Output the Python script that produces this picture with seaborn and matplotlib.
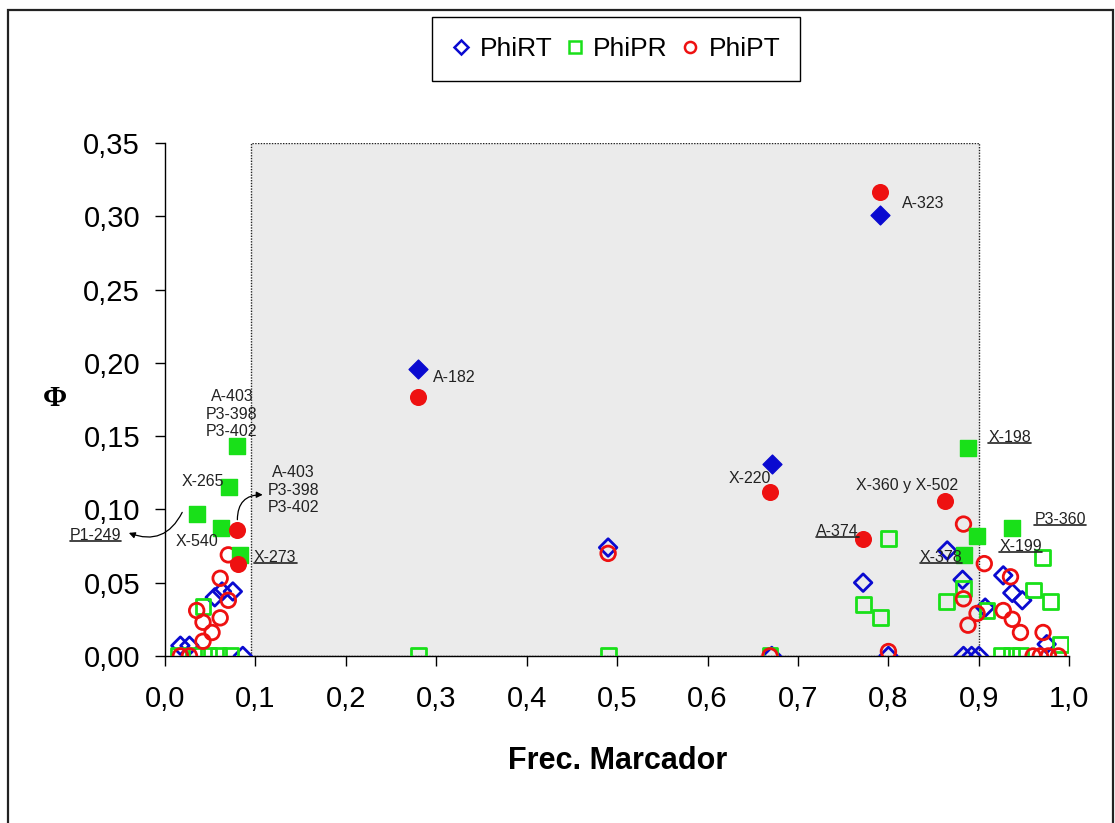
import numpy as np
import pandas as pd
import matplotlib
matplotlib.use("Agg")
import matplotlib.pyplot as plt
import seaborn as sns
from matplotlib.patches import Rectangle
from matplotlib.lines import Line2D
from matplotlib.ticker import FuncFormatter

# ---- PhiRT (blue diamonds) ----
rt_open_x = [0.017, 0.027, 0.086, 0.055, 0.063, 0.075, 0.490, 0.671, 0.772, 0.800,
             0.865, 0.882, 0.883, 0.892, 0.900, 0.907, 0.927, 0.937, 0.948, 0.975]
rt_open_y = [0.007, 0.007, 0.000, 0.040, 0.044, 0.044, 0.074, 0.000, 0.050, 0.000,
             0.072, 0.052, 0.000, 0.000, 0.000, 0.033, 0.055, 0.043, 0.038, 0.008]
rt_fill_x = [0.280, 0.671, 0.791]
rt_fill_y = [0.196, 0.131, 0.301]

# ---- PhiPR (green squares) ----
pr_open_x = [0.015, 0.035, 0.048, 0.059, 0.072, 0.280, 0.490, 0.669, 0.925, 0.936,
             0.946, 0.042, 0.800, 0.772, 0.791, 0.864, 0.883, 0.909, 0.960, 0.979,
             0.970, 0.990]
pr_open_y = [0.000, 0.000, 0.000, 0.000, 0.000, 0.000, 0.000, 0.000, 0.000, 0.000,
             0.000, 0.034, 0.080, 0.035, 0.026, 0.037, 0.046, 0.031, 0.045, 0.037,
             0.067, 0.008]
pr_fill_x = [0.080, 0.071, 0.035, 0.062, 0.083, 0.888, 0.898, 0.937, 0.884]
pr_fill_y = [0.143, 0.115, 0.097, 0.087, 0.069, 0.142, 0.082, 0.087, 0.069]

# ---- PhiPT (red circles) ----
pt_open_x = [0.017, 0.027, 0.042, 0.052, 0.042, 0.061, 0.035, 0.070, 0.061, 0.070,
             0.490, 0.669, 0.800, 0.883, 0.906, 0.883, 0.898, 0.888, 0.935, 0.927,
             0.937, 0.946, 0.971, 0.960, 0.968, 0.977, 0.988]
pt_open_y = [0.000, 0.000, 0.010, 0.016, 0.023, 0.026, 0.031, 0.038, 0.053, 0.069,
             0.070, 0.000, 0.003, 0.090, 0.063, 0.039, 0.029, 0.021, 0.054, 0.031,
             0.025, 0.016, 0.016, 0.000, 0.000, 0.000, 0.000]
pt_fill_x = [0.080, 0.081, 0.280, 0.669, 0.772, 0.791, 0.863]
pt_fill_y = [0.086, 0.063, 0.177, 0.112, 0.080, 0.317, 0.106]

series_names = ["PhiRT", "PhiPR", "PhiPT"]
x_ticks = [0.0, 0.1, 0.2, 0.3, 0.4, 0.5, 0.6, 0.7, 0.8, 0.9, 1.0]
y_ticks = [0.00, 0.05, 0.10, 0.15, 0.20, 0.25, 0.30, 0.35]

colors = {"PhiRT": "#0a0ad0", "PhiPR": "#19e019", "PhiPT": "#ee1111"}
markers = {"PhiRT": "D", "PhiPR": "s", "PhiPT": "o"}
sizes = {"PhiRT": 80, "PhiPR": 115, "PhiPT": 110}

frames = []
for name, ox, oy, fx, fy in [
    ("PhiRT", rt_open_x, rt_open_y, rt_fill_x, rt_fill_y),
    ("PhiPR", pr_open_x, pr_open_y, pr_fill_x, pr_fill_y),
    ("PhiPT", pt_open_x, pt_open_y, pt_fill_x, pt_fill_y),
]:
    frames.append(pd.DataFrame({"freq": ox, "phi": oy, "serie": name, "filled": False}))
    frames.append(pd.DataFrame({"freq": fx, "phi": fy, "serie": name, "filled": True}))
df = pd.concat(frames, ignore_index=True)

sns.set_theme(style="white")
plt.rcParams["font.family"] = ["Liberation Sans", "DejaVu Sans"]

fig = plt.figure(figsize=(11.15, 8.23), dpi=100)
ax = fig.add_axes([0.148, 0.203, 0.811, 0.623])

# shaded region between 0.1 and 0.9
ax.add_patch(Rectangle((0.095, 0.0), 0.805, 0.35, facecolor="#ebebeb",
                       edgecolor="#222222", linestyle=(0, (1, 1)), lw=1.0, zorder=0.5))

for name in series_names:
    sub = df[(df.serie == name) & (~df.filled)]
    sns.scatterplot(data=sub, x="freq", y="phi", ax=ax, marker=markers[name],
                    s=sizes[name], facecolor="none", edgecolor=colors[name],
                    linewidth=2.0, zorder=3, legend=False)
for name in series_names:
    sub = df[(df.serie == name) & (df.filled)]
    sns.scatterplot(data=sub, x="freq", y="phi", ax=ax, marker=markers[name],
                    s=sizes[name] * 1.15, color=colors[name], edgecolor=colors[name],
                    linewidth=1.0, zorder=4, legend=False)

ax.set_xlim(0, 1.0)
ax.set_ylim(0, 0.35)
ax.set_xticks(x_ticks)
ax.set_yticks(y_ticks)
ax.xaxis.set_major_formatter(FuncFormatter(lambda v, p: f"{v:.1f}".replace(".", ",")))
ax.yaxis.set_major_formatter(FuncFormatter(lambda v, p: f"{v:.2f}".replace(".", ",")))
for side in ["top", "right"]:
    ax.spines[side].set_visible(False)
for side in ["left", "bottom"]:
    ax.spines[side].set_color("black")
    ax.spines[side].set_linewidth(1.0)
ax.tick_params(axis="both", which="major", direction="out", length=7, width=1,
               color="black", labelsize=21, labelcolor="#000000",
               bottom=True, left=True)
ax.tick_params(axis="x", pad=14)
ax.tick_params(axis="y", pad=11)
ax.set_facecolor("white")

ax.set_xlabel("Frec. Marcador", fontsize=22, fontweight="bold", labelpad=24, color="#000000")
ax.set_ylabel("")
fig.text(55 / 1115, 1 - 398 / 823, "Φ", fontsize=21, fontweight="bold",
         family=["Liberation Serif", "DejaVu Serif"], ha="center", va="center", color="#000000")

# point labels
lab_kw = dict(fontsize=11.5, color="#222222", annotation_clip=False, zorder=6)
underlined = []
ax.annotate("A-323", (0.815, 0.309), ha="left", va="center", **lab_kw)
ax.annotate("A-182", (0.296, 0.190), ha="left", va="center", **lab_kw)
ax.annotate("X-220", (0.647, 0.121), ha="center", va="center", **lab_kw)
ax.annotate("X-360 y X-502", (0.821, 0.116), ha="center", va="center", **lab_kw)
ax.annotate("X-265", (0.042, 0.119), ha="center", va="center", **lab_kw)
ax.annotate("X-540", (0.035, 0.078), ha="center", va="center", **lab_kw)
ax.annotate("A-403\nP3-398\nP3-402", (0.074, 0.165), ha="center", va="center",
            linespacing=1.2, **lab_kw)
ax.annotate("A-403\nP3-398\nP3-402", (0.142, 0.113), ha="center", va="center",
            linespacing=1.2, **lab_kw)
for txt, pos in [("A-374", (0.744, 0.0846)), ("X-198", (0.934, 0.149)),
                 ("P3-360", (0.990, 0.093)), ("X-199", (0.946, 0.075)),
                 ("X-378", (0.858, 0.0675)), ("X-273", (0.122, 0.0675)),
                 ("P1-249", (-0.077, 0.082))]:
    underlined.append(ax.annotate(txt, pos, ha="center", va="center", **lab_kw))

# curved arrows
ax.annotate("", xy=(-0.040, 0.084), xytext=(0.019, 0.098), annotation_clip=False,
            arrowprops=dict(arrowstyle="-|>", mutation_scale=9, lw=0.9, color="black",
                            connectionstyle="arc3,rad=-0.45", shrinkA=0, shrinkB=0),
            zorder=6)
ax.annotate("", xy=(0.108, 0.110), xytext=(0.080, 0.093), annotation_clip=False,
            arrowprops=dict(arrowstyle="-|>", mutation_scale=9, lw=0.9, color="black",
                            connectionstyle="arc3,rad=-0.5", shrinkA=0, shrinkB=0),
            zorder=6)

# legend
handles = [Line2D([], [], linestyle="none", marker=markers[n], markersize=7 if n == "PhiRT" else 8,
                  markerfacecolor="none", markeredgecolor=colors[n], markeredgewidth=1.8)
           for n in series_names]
leg = fig.legend(handles, series_names, loc="center", bbox_to_anchor=(616 / 1115, 1 - 49 / 823),
                 ncol=3, fontsize=19, frameon=True, fancybox=False, framealpha=1,
                 edgecolor="black", handlelength=0.7, handletextpad=0.35,
                 columnspacing=0.5, borderpad=0.75)
leg.get_frame().set_linewidth(1.0)
for t in leg.get_texts():
    t.set_color("#000000")

# outer frame
fig.patches.append(Rectangle((0.007, -0.01), 0.991, 0.998, transform=fig.transFigure,
                             fill=False, edgecolor="#222222", lw=1.6))

# underline selected labels
fig.canvas.draw()
renderer = fig.canvas.get_renderer()
W, H = fig.bbox.width, fig.bbox.height
for t in underlined:
    bb = t.get_window_extent(renderer)
    yline = bb.y0 + 2
    fig.add_artist(Line2D([bb.x0 / W, bb.x1 / W], [yline / H, yline / H],
                          transform=fig.transFigure, color="#222222", lw=1.2))

fig.savefig("out.png", dpi=100)
